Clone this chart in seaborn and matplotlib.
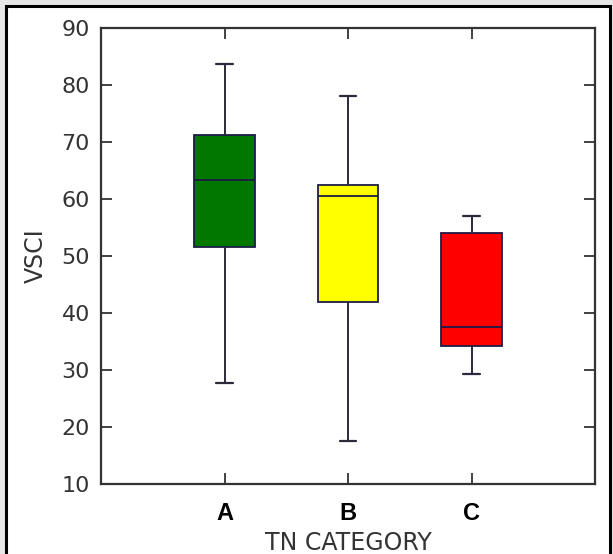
import matplotlib
matplotlib.use("Agg")
import matplotlib.pyplot as plt
from matplotlib.patches import Rectangle
import seaborn as sns
import pandas as pd

categories = ["A", "B", "C"]
# five-number summaries: min, Q1, median, Q3, max
vsci_a = [27.7, 51.6, 63.4, 71.3, 83.7]
vsci_b = [17.6, 41.9, 60.6, 62.5, 78.1]
vsci_c = [29.3, 34.2, 37.5, 54.1, 57.1]
box_colors = ["#007800", "#ffff00", "#ff0000"]
y_ticks = [10, 20, 30, 40, 50, 60, 70, 80, 90]

df = pd.DataFrame({
    "TN CATEGORY": ["A"] * 5 + ["B"] * 5 + ["C"] * 5,
    "VSCI": vsci_a + vsci_b + vsci_c,
})

sns.set_style("white")
plt.rcParams["font.family"] = ["DejaVu Sans"]

fig = plt.figure(figsize=(6.13, 5.54), dpi=100)
fig.patch.set_facecolor("#e6e6e6")
W, H = 613, 554
frame = Rectangle((6 / W, -0.05), (610 - 6) / W, (H - 6) / H + 0.05,
                  transform=fig.transFigure, facecolor="white",
                  edgecolor="black", linewidth=2.2, zorder=-10)
fig.patches.append(frame)

ax = fig.add_axes([101 / W, (H - 484) / H, (595 - 101) / W, (484 - 28) / H])
ax.set_zorder(5)
ax.set_facecolor("white")

edge = "#1c1c48"
sns.boxplot(data=df, x="TN CATEGORY", y="VSCI", hue="TN CATEGORY",
            palette=box_colors, order=categories, hue_order=categories,
            saturation=1, whis=(0, 100), width=0.49, linewidth=1.3,
            linecolor=edge, legend=False, ax=ax,
            whiskerprops=dict(color="#2a2a3a", linewidth=1.4),
            capprops=dict(color="#2a2a3a", linewidth=1.6),
            medianprops=dict(color="#1c1c48", linewidth=1.3),
            showfliers=False)
for line in ax.lines:
    xd = line.get_xdata()
    if len(xd) == 2 and xd[0] != xd[1] and abs(xd[1] - xd[0]) < 0.3:
        c = (xd[0] + xd[1]) / 2
        line.set_xdata([c - 0.065, c + 0.065])

ax.set_xlim(-1, 3)
ax.set_ylim(10, 90)
ax.set_yticks(y_ticks)
ax.set_xticks(range(len(categories)))
ax.set_xticklabels(categories, fontweight="bold", fontsize=17, color="black",
                   family=["Liberation Sans", "DejaVu Sans"])
ax.tick_params(axis="y", direction="in", length=8, width=1.3, left=True, right=True,
               labelsize=16, labelcolor="#333333", pad=8, color="#333333")
ax.tick_params(axis="x", direction="in", length=8, width=1.3, bottom=True, top=True,
               pad=13, color="#333333")
for s in ax.spines.values():
    s.set_visible(True)
    s.set_color("#333333")
    s.set_linewidth(1.6)

ax.set_xlabel("TN CATEGORY", fontsize=17, color="#333333", labelpad=4)
ax.set_ylabel("VSCI", fontsize=17, color="#333333", labelpad=10)

fig.savefig("out.png", dpi=100, facecolor=fig.get_facecolor())
